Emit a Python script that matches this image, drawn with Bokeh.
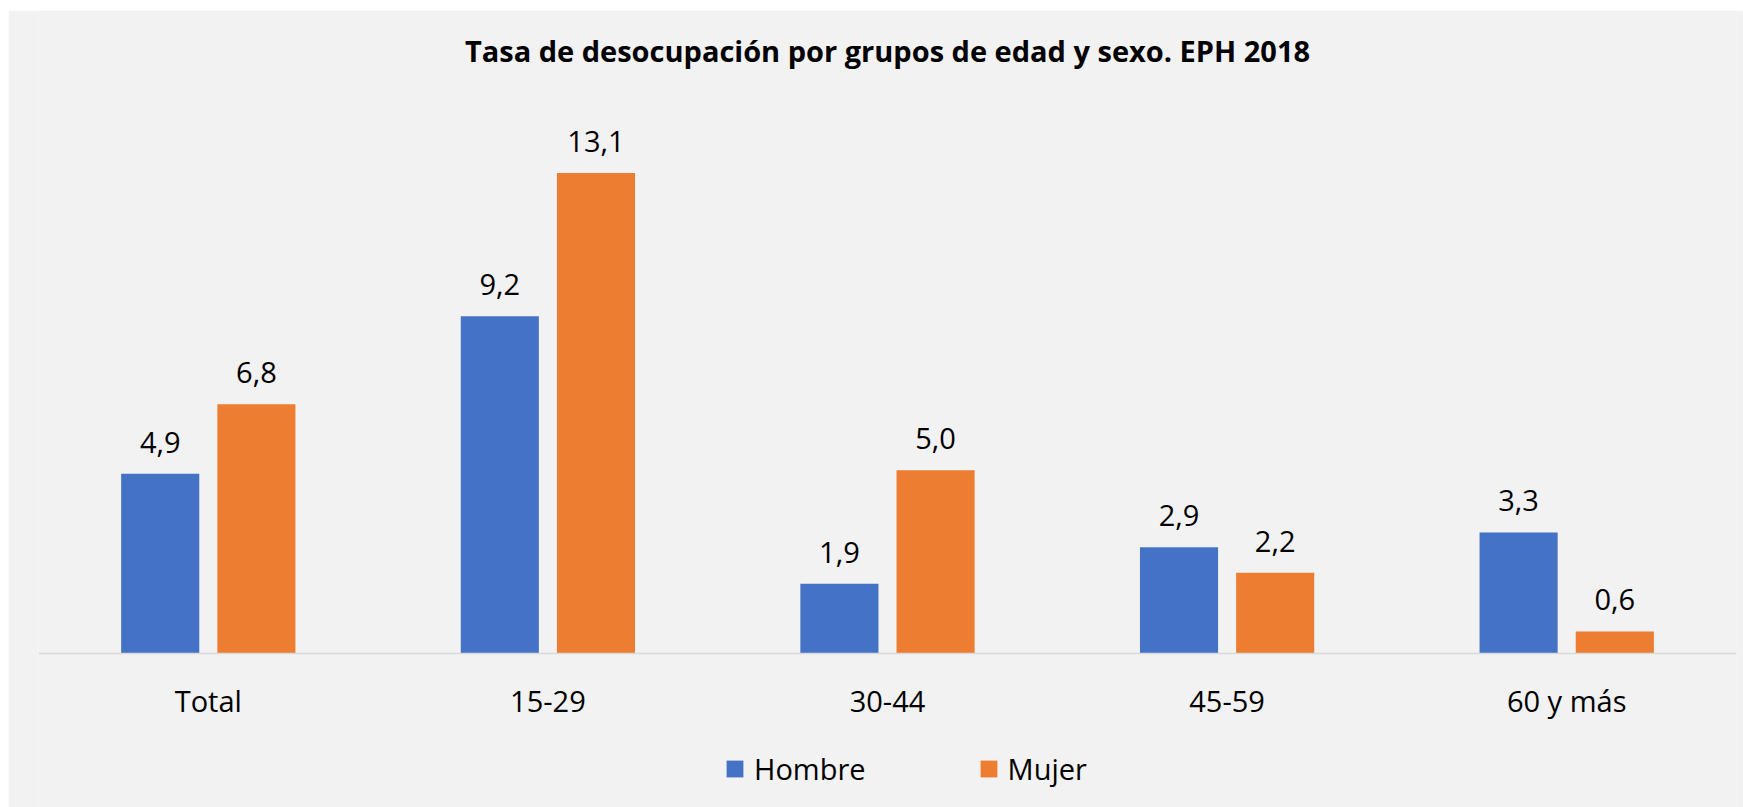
from bokeh.plotting import figure
from bokeh.models import ColumnDataSource, FactorRange, LabelSet, Label, Legend, LegendItem
from bokeh.transform import dodge
from bokeh.core.properties import value
from bokeh.embed import file_html
from bokeh.resources import INLINE

categories = ["Total", "15-29", "30-44", "45-59", "60 y más"]
hombre = [4.9, 9.2, 1.9, 2.9, 3.3]
mujer = [6.8, 13.1, 5.0, 2.2, 0.6]
series_names = ["Hombre", "Mujer"]
title_text = "Tasa de desocupación por grupos de edad y sexo. EPH 2018"

FONT = "Open Sans"
BG = "#f2f2f2"
BLUE = "#4472c4"
ORANGE = "#ed7d31"


def fmt(v):
    return f"{v:.1f}".replace(".", ",")


src = ColumnDataSource(dict(
    cat=categories,
    hombre=hombre,
    mujer=mujer,
    hombre_lbl=[fmt(v) for v in hombre],
    mujer_lbl=[fmt(v) for v in mujer],
))

W, H = 1735, 797
PX_PER_UNIT = 36.67
ABOVE, BELOW = 643, 154
p = figure(
    x_range=FactorRange(*categories, range_padding=0),
    y_range=(-BELOW / PX_PER_UNIT, ABOVE / PX_PER_UNIT),
    width=W, height=H,
    output_backend="svg", toolbar_location=None,
    min_border_left=30, min_border_right=7, min_border_top=0, min_border_bottom=0,
    background_fill_color=BG, border_fill_color=BG,
)
p.margin = (10, 0, 0, 8)
p.outline_line_color = None
p.xgrid.grid_line_color = None
p.ygrid.grid_line_color = None
p.yaxis.visible = False

off = 0.1416
bw = 0.23
r1 = p.vbar(x=dodge("cat", -off, range=p.x_range), top="hombre", bottom=0, width=bw, source=src,
            fill_color=BLUE, line_color=None)
r2 = p.vbar(x=dodge("cat", off, range=p.x_range), top="mujer", bottom=0, width=bw, source=src,
            fill_color=ORANGE, line_color=None)

for ycol, lcol, d in [("hombre", "hombre_lbl", -off), ("mujer", "mujer_lbl", off)]:
    ls = LabelSet(x=dodge("cat", d, range=p.x_range), y=ycol, text=lcol, source=src,
                  y_offset=21, text_align="center", text_baseline="alphabetic",
                  text_font=value(FONT), text_font_size="29px", text_color="#000000")
    p.add_layout(ls)

ax = p.xaxis[0]
ax.fixed_location = 0
ax.axis_line_color = "#d9d9d9"
ax.axis_line_width = 1.5
ax.major_tick_line_color = None
ax.minor_tick_line_color = None
ax.major_tick_out = 0
ax.major_tick_in = 0
ax.major_label_standoff = 27
ax.major_label_text_font = FONT
ax.major_label_text_font_size = "29px"
ax.major_label_text_color = "#000000"

title = Label(x=(W - 30 - 7) / 2, y=H - (64.3 - 10) + 14, x_units="screen", y_units="screen",
              text=title_text, text_align="center", text_baseline="alphabetic",
              text_font=FONT, text_font_size="29px", text_font_style="bold",
              text_color="#000000")
p.add_layout(title)

legend = Legend(
    items=[LegendItem(label=series_names[0], renderers=[r1]),
           LegendItem(label=series_names[1], renderers=[r2])],
    orientation="horizontal", location=(686, 19),
    glyph_width=21, glyph_height=21, label_standoff=9, spacing=112,
    padding=0, margin=0, border_line_color=None, background_fill_alpha=0,
    label_text_font=FONT, label_text_font_size="29px", label_text_color="#000000",
)
p.add_layout(legend, "center")

open("out.html", "w").write(file_html(p, INLINE))
